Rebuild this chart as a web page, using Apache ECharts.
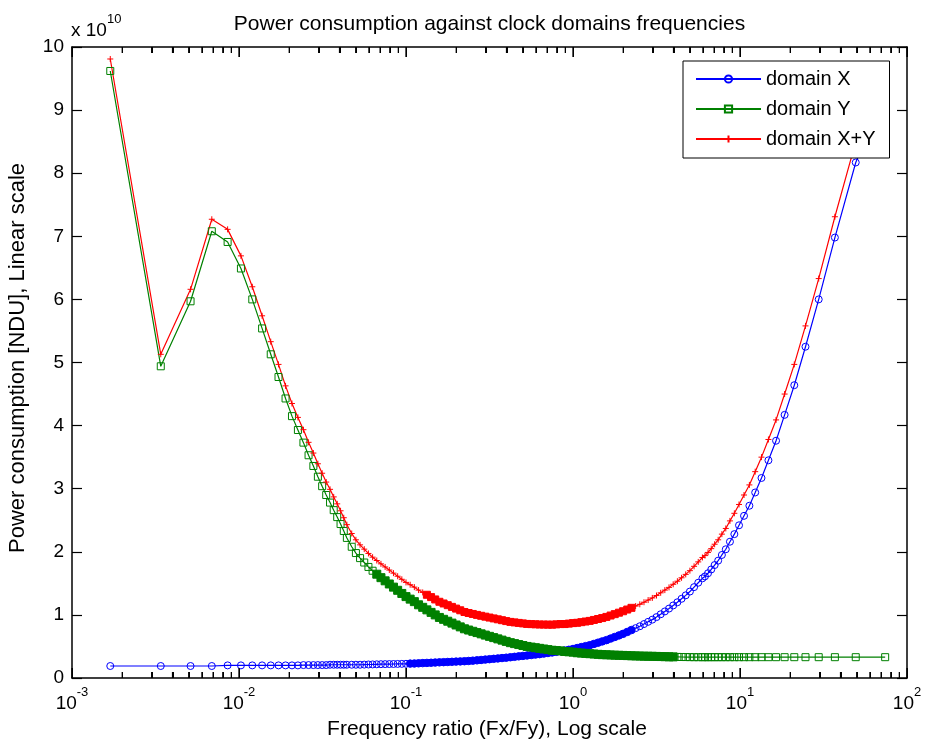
<!DOCTYPE html>
<html>
<head>
<meta charset="utf-8">
<script src="https://cdn.jsdelivr.net/npm/echarts@6.0.0/dist/echarts.min.js"></script>
<style>
html,body{margin:0;padding:0;background:#fff;}
#chart{width:926px;height:745px;}
</style>
</head>
<body>
<div id="chart"></div>
<script>
// ---- data (values in units of 1e10 NDU) ----
const freqRatio = [
  0.001695, 0.003401, 0.005128, 0.006873, 0.008547, 0.01027, 0.01201, 0.01375, 0.01549, 0.01724,
  0.01900, 0.02076, 0.02253, 0.02431, 0.02609, 0.02788, 0.02967, 0.03147, 0.03328, 0.03509,
  0.03691, 0.03873, 0.04056, 0.04240, 0.04425,
  0.04732, 0.05012, 0.05309, 0.05623, 0.05957, 0.06310, 0.06683, 0.07079, 0.07499, 0.07943,
  0.08414, 0.08913, 0.09441, 0.1000, 0.1059, 0.1122, 0.1189, 0.1259, 0.1334, 0.1413,
  0.1496, 0.1585, 0.1679, 0.1778, 0.1884, 0.1995, 0.2113, 0.2239, 0.2371, 0.2512,
  0.2661, 0.2818, 0.2985, 0.3162, 0.3350, 0.3548, 0.3758, 0.3981, 0.4217, 0.4467,
  0.4732, 0.5012, 0.5309, 0.5623, 0.5957, 0.6310, 0.6683, 0.7079, 0.7499, 0.7943,
  0.8414, 0.8913, 0.9441, 1.000, 1.059, 1.122, 1.189, 1.259, 1.334, 1.413,
  1.496, 1.585, 1.679, 1.778, 1.884, 1.995, 2.113, 2.239, 2.371, 2.512,
  2.661, 2.818, 2.985, 3.162, 3.350, 3.548, 3.758, 3.981, 4.217, 4.467,
  4.732, 5.012, 5.309, 5.623, 5.957,
  6.167, 6.435, 6.727, 7.048, 7.400, 7.789, 8.222, 8.706, 9.250, 9.867,
  10.57, 11.38, 12.33, 13.45, 14.80, 16.44, 18.50, 21.14, 24.67, 29.60,
  37.00, 49.33, 74.00
];

const domainX = [
  0.19, 0.19, 0.19, 0.19, 0.20, 0.20, 0.20, 0.20, 0.20, 0.20,
  0.20, 0.20, 0.20, 0.205, 0.205, 0.205, 0.205, 0.205, 0.205, 0.21,
  0.21, 0.21, 0.21, 0.21, 0.21,
  0.21, 0.21, 0.21, 0.212, 0.214, 0.215, 0.217, 0.219, 0.22, 0.221,
  0.222, 0.223, 0.224, 0.225, 0.228, 0.23, 0.233, 0.236, 0.239, 0.242,
  0.245, 0.248, 0.251, 0.254, 0.257, 0.26, 0.263, 0.266, 0.27, 0.275,
  0.28, 0.286, 0.292, 0.298, 0.304, 0.31, 0.316, 0.322, 0.329, 0.336,
  0.343, 0.35, 0.357, 0.364, 0.371, 0.378, 0.387, 0.396, 0.405, 0.415,
  0.425, 0.435, 0.447, 0.46, 0.475, 0.49, 0.505, 0.52, 0.54, 0.56,
  0.58, 0.60, 0.625, 0.65, 0.675, 0.70, 0.73, 0.76, 0.79, 0.82,
  0.855, 0.89, 0.925, 0.965, 1.01, 1.055, 1.10, 1.15, 1.20, 1.255,
  1.31, 1.37, 1.44, 1.51, 1.58,
  1.61, 1.66, 1.72, 1.79, 1.86, 1.95, 2.04, 2.16, 2.28, 2.42,
  2.57, 2.73, 2.94, 3.17, 3.45, 3.76, 4.17, 4.64, 5.25, 6.00,
  6.98, 8.17, 9.3
];

const domainY = [
  9.62, 4.94, 5.97, 7.08, 6.91, 6.49, 6.00, 5.54, 5.13, 4.77,
  4.43, 4.15, 3.93, 3.73, 3.53, 3.36, 3.19, 3.04, 2.90, 2.78,
  2.66, 2.55, 2.44, 2.33, 2.22,
  2.08, 1.98, 1.90, 1.83, 1.76, 1.70, 1.645, 1.59, 1.54, 1.49,
  1.44, 1.39, 1.34, 1.29, 1.25, 1.21, 1.16, 1.12, 1.08, 1.04,
  1.00, 0.96, 0.93, 0.90, 0.87, 0.84, 0.81, 0.78, 0.76, 0.74,
  0.72, 0.70, 0.68, 0.66, 0.64, 0.62, 0.60, 0.58, 0.56, 0.545,
  0.53, 0.515, 0.50, 0.49, 0.48, 0.47, 0.46, 0.45, 0.44, 0.435,
  0.43, 0.42, 0.415, 0.41, 0.40, 0.395, 0.39, 0.385, 0.38, 0.375,
  0.37, 0.368, 0.365, 0.362, 0.36, 0.358, 0.355, 0.352, 0.35, 0.348,
  0.346, 0.345, 0.344, 0.342, 0.34, 0.338, 0.336, 0.335, 0.334, 0.333,
  0.332, 0.331, 0.33, 0.33, 0.33,
  0.33, 0.33, 0.33, 0.33, 0.33, 0.33, 0.33, 0.33, 0.33, 0.33,
  0.33, 0.33, 0.33, 0.33, 0.33, 0.33, 0.33, 0.33, 0.33, 0.33,
  0.33, 0.33, 0.33
];

const domainXY = [
  9.81, 5.13, 6.16, 7.27, 7.11, 6.69, 6.20, 5.74, 5.33, 4.97,
  4.63, 4.35, 4.13, 3.935, 3.735, 3.565, 3.395, 3.245, 3.105, 2.99,
  2.87, 2.76, 2.65, 2.54, 2.43,
  2.29, 2.19, 2.11, 2.042, 1.974, 1.915, 1.862, 1.809, 1.76, 1.711,
  1.662, 1.613, 1.564, 1.515, 1.478, 1.44, 1.393, 1.356, 1.319, 1.282,
  1.245, 1.208, 1.181, 1.154, 1.127, 1.10, 1.073, 1.046, 1.03, 1.015,
  1.00, 0.986, 0.972, 0.958, 0.944, 0.93, 0.916, 0.902, 0.889, 0.881,
  0.873, 0.865, 0.857, 0.854, 0.851, 0.848, 0.847, 0.846, 0.845, 0.85,
  0.855, 0.855, 0.862, 0.87, 0.875, 0.885, 0.895, 0.905, 0.92, 0.935,
  0.95, 0.968, 0.99, 1.012, 1.035, 1.058, 1.085, 1.112, 1.14, 1.168,
  1.201, 1.235, 1.269, 1.307, 1.35, 1.393, 1.436, 1.485, 1.534, 1.588,
  1.642, 1.701, 1.77, 1.84, 1.91,
  1.94, 1.99, 2.05, 2.12, 2.19, 2.28, 2.37, 2.49, 2.61, 2.75,
  2.90, 3.06, 3.27, 3.50, 3.78, 4.09, 4.50, 4.97, 5.58, 6.33,
  7.31, 8.50, 9.63
];

const seriesNames = ['domain X', 'domain Y', 'domain X+Y'];
const xMajorTicks = [0.001, 0.01, 0.1, 1, 10, 100];
const xMinorMultipliers = [2, 3, 4, 5, 6, 7, 8, 9];
const yTicks = [0, 1, 2, 3, 4, 5, 6, 7, 8, 9, 10];
const titleText = 'Power consumption against clock domains frequencies';
const xLabelText = 'Frequency ratio (Fx/Fy), Log scale';
const yLabelText = 'Power consumption [NDU], Linear scale';

// ---- styling ----
const FONT = '"Liberation Sans", Arial, Helvetica, sans-serif';
const PLUS = 'path://M0,5L10,5M5,0L5,10';
const yMin = yTicks[0], yMax = yTicks[yTicks.length - 1];
const xMinorTicks = [];
xMajorTicks.slice(0, -1).forEach(d => xMinorMultipliers.forEach(m =>
  xMinorTicks.push(parseFloat((m * d).toPrecision(3)))));

function build(values, o) {
  return freqRatio.map((x, i) => {
    const item = { value: [x, values[i]] };
    if (x >= o.lo && x <= o.hi) {
      item.symbol = o.denseSymbol;
      item.symbolSize = o.denseSize;
      item.itemStyle = { color: o.color, borderColor: o.color, borderWidth: 1 };
    }
    return item;
  });
}

function lineSeries(name, values, color, symbol, size, dense) {
  return {
    name: name, type: 'line', xAxisIndex: 0, yAxisIndex: 0,
    data: build(values, Object.assign({ color: color }, dense)),
    symbol: symbol, symbolSize: size, showSymbol: true, showAllSymbol: true,
    itemStyle: { color: 'rgba(0,0,0,0)', borderColor: color, borderWidth: 1 },
    lineStyle: { color: color, width: 1.2 },
    emphasis: { disabled: true }, clip: true, animation: false
  };
}

// x-axis tick marks drawn as thin filled bars at the tick values (through the log axis)
function tickSeries(values, yVal, len, down) {
  return {
    name: seriesNames[1], type: 'scatter', xAxisIndex: 0, yAxisIndex: 0,
    data: values.map(v => [v, yVal]),
    symbol: 'rect', symbolSize: [1.3, len], symbolOffset: [0, down ? len / 2 : -len / 2],
    itemStyle: { color: '#000', opacity: 1, borderWidth: 0 },
    clip: false, silent: true, z: 10, emphasis: { disabled: true }, animation: false, large: false
  };
}

const axisLineStyle = { color: '#000', width: 1.5 };

function logAxis(pos, labels) {
  const ax = {
    type: 'log', logBase: 10, min: 0.001, max: 100, position: pos,
    axisLine: { show: true, onZero: false, lineStyle: axisLineStyle },
    axisTick: { show: false },
    splitLine: { show: false }, minorTick: { show: false },
    axisLabel: { show: false }
  };
  if (labels) {
    ax.axisLabel = {
      show: true, customValues: xMajorTicks, margin: 15, color: '#000', fontFamily: FONT,
      formatter: function (v) { return '{m|10}{s|' + Math.round(Math.log10(v)) + '}'; },
      rich: {
        m: { fontSize: 19, lineHeight: 20, fontFamily: FONT, color: '#000', verticalAlign: 'bottom' },
        s: { fontSize: 13, lineHeight: 13, fontFamily: FONT, color: '#000', verticalAlign: 'bottom', padding: [0, 0, 14, 0] }
      }
    };
  }
  return ax;
}

function valAxis(pos, labels) {
  return {
    type: 'value', min: yMin, max: yMax, interval: 1, position: pos,
    axisLine: { show: true, onZero: false, lineStyle: axisLineStyle },
    axisTick: { show: true, inside: true, length: 10, lineStyle: { color: '#000', width: 1.2 } },
    axisLabel: labels ? { show: true, margin: 8, fontSize: 19, fontFamily: FONT, color: '#000' } : { show: false },
    splitLine: { show: false }
  };
}

const chart = echarts.init(document.getElementById('chart'), null, { renderer: 'canvas' });
chart.setOption({
  animation: false,
  backgroundColor: '#fff',
  grid: { left: 72, top: 47, width: 835, height: 631, containLabel: false },
  xAxis: [logAxis('bottom', true), logAxis('top', false)],
  yAxis: [valAxis('left', true), valAxis('right', false)],
  legend: {
    orient: 'vertical', left: 683, top: 61, padding: [8, 14, 9, 12], itemGap: 10,
    itemWidth: 65, itemHeight: 9, backgroundColor: '#fff', borderColor: '#000', borderWidth: 1, borderRadius: 0,
    selectedMode: false, data: seriesNames,
    textStyle: { fontSize: 20, lineHeight: 20, color: '#000', fontFamily: FONT }
  },
  series: [
    lineSeries(seriesNames[0], domainX, '#0000ff', 'circle', 7, { lo: 0.105, hi: 2.3, denseSymbol: 'circle', denseSize: 7.5 }),
    lineSeries(seriesNames[1], domainY, '#008000', 'rect', 7, { lo: 0.065, hi: 4.2, denseSymbol: 'rect', denseSize: 8 }),
    lineSeries(seriesNames[2], domainXY, '#ff0000', PLUS, 6, { lo: 0.13, hi: 2.3, denseSymbol: 'rect', denseSize: 7 }),
    tickSeries(xMajorTicks, yMin, 10, false),
    tickSeries(xMinorTicks, yMin, 6, false),
    tickSeries(xMajorTicks, yMax, 10, true),
    tickSeries(xMinorTicks, yMax, 6, true)
  ]
});

// ---- texts, plus a second rendering of the tick marks via the chart's own pixel conversion ----
const graphics = [
  { type: 'text', x: 489.5, y: 24, silent: true,
    style: { text: titleText, fill: '#000', font: '21px ' + FONT, textAlign: 'center', textVerticalAlign: 'middle', align: 'center', verticalAlign: 'middle' } },
  { type: 'text', x: 487, y: 729, silent: true,
    style: { text: xLabelText, fill: '#000', font: '21px ' + FONT, textAlign: 'center', textVerticalAlign: 'middle', align: 'center', verticalAlign: 'middle' } },
  { type: 'text', x: 18, y: 358, rotation: Math.PI / 2, silent: true,
    style: { text: yLabelText, fill: '#000', font: '22px ' + FONT, textAlign: 'center', textVerticalAlign: 'middle', align: 'center', verticalAlign: 'middle' } },
  { type: 'text', x: 71, y: 40, silent: true,
    style: { text: '{a|x 10}{b|10}', fill: '#000', textAlign: 'left', textVerticalAlign: 'bottom', align: 'left', verticalAlign: 'bottom',
      rich: {
        a: { fontSize: 19, lineHeight: 20, fontFamily: FONT, fill: '#000', color: '#000', verticalAlign: 'bottom' },
        b: { fontSize: 13, lineHeight: 13, fontFamily: FONT, fill: '#000', color: '#000', verticalAlign: 'bottom', padding: [0, 0, 14, 0] }
      } } }
];
try {
  const allTicks = xMajorTicks.map(v => [v, 10]).concat(xMinorTicks.map(v => [v, 6]));
  allTicks.forEach(([v, len]) => {
    const pb = chart.convertToPixel({ xAxisIndex: 0, yAxisIndex: 0 }, [v, yMin]);
    const pt = chart.convertToPixel({ xAxisIndex: 0, yAxisIndex: 0 }, [v, yMax]);
    if (!pb || !pt || !isFinite(pb[0]) || !isFinite(pb[1]) || !isFinite(pt[1])) return;
    const x = Math.round(pb[0]) + 0.5;
    graphics.push({ type: 'line', silent: true, shape: { x1: x, y1: pb[1], x2: x, y2: pb[1] - len }, style: { stroke: '#000', lineWidth: 1 } });
    graphics.push({ type: 'line', silent: true, shape: { x1: x, y1: pt[1], x2: x, y2: pt[1] + len }, style: { stroke: '#000', lineWidth: 1 } });
  });
} catch (e) { /* tick bars are also drawn by the tick series */ }
chart.setOption({ graphic: graphics });
</script>
</body>
</html>
